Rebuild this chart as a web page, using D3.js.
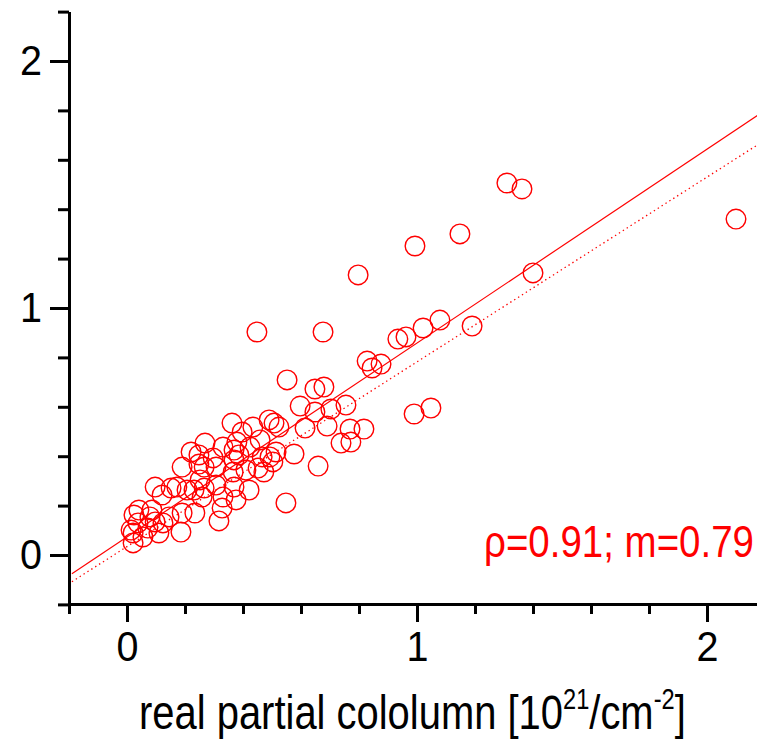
<!DOCTYPE html>
<html>
<head>
<meta charset="utf-8">
<script src="https://cdn.jsdelivr.net/npm/d3@7"></script>
<style>
  html, body { margin: 0; padding: 0; background: #fff; }
  svg { display: block; }
  text { font-family: "Liberation Sans", Arial, sans-serif; }
</style>
</head>
<body>
<svg id="chart" width="757" height="741"></svg>
<script>
// ---- data ----
const xValues = [
  1.310, 1.362, 1.148, 0.993, 0.797, 1.400, 2.100, 0.448, 0.676, 1.190,
  1.079, 1.021, 0.934, 0.962, 0.828, 0.845, 0.876, 0.552, 0.648, 0.679,
  0.597, 0.648, 0.703, 0.755, 0.614, 0.690, 0.769, 0.817, 0.738, 0.772,
  0.990, 1.048, 0.576, 0.659, 0.548,
  0.362, 0.397, 0.434, 0.490, 0.507, 0.524, 0.269, 0.248, 0.221, 0.297,
  0.331, 0.379, 0.386, 0.369, 0.424, 0.466, 0.514, 0.503, 0.266, 0.307,
  0.366, 0.410, 0.452, 0.266, 0.307, 0.369, 0.421, 0.376, 0.328, 0.317,
  0.472, 0.369, 0.459, 0.493, 0.331, 0.252,
  0.190, 0.248, 0.097, 0.121, 0.172, 0.207, 0.231, 0.259, 0.041, 0.024,
  0.086, 0.097, 0.190, 0.234, 0.110, 0.186, 0.021, 0.014, 0.055, 0.145,
  0.072, 0.152, 0.124, 0.079, 0.038, 0.021
];
const yValues = [
  1.506, 1.482, 1.300, 1.251, 1.134, 1.142, 1.360, 0.903, 0.903, 0.927,
  0.951, 0.919, 0.874, 0.883, 0.785, 0.757, 0.773, 0.709, 0.672, 0.680,
  0.603, 0.579, 0.591, 0.607, 0.514, 0.522, 0.510, 0.510, 0.453, 0.457,
  0.571, 0.595, 0.409, 0.360, 0.211,
  0.534, 0.498, 0.518, 0.547, 0.534, 0.518, 0.453, 0.405, 0.417, 0.393,
  0.437, 0.457, 0.405, 0.385, 0.437, 0.397, 0.417, 0.377, 0.356, 0.356,
  0.336, 0.344, 0.352, 0.271, 0.283, 0.275, 0.263, 0.223, 0.190, 0.138,
  0.336, 0.425, 0.466, 0.397, 0.235, 0.304,
  0.356, 0.368, 0.275, 0.243, 0.275, 0.263, 0.263, 0.235, 0.182, 0.162,
  0.182, 0.134, 0.170, 0.170, 0.089, 0.093, 0.049, 0.101, 0.073, 0.154,
  0.109, 0.271, 0.130, 0.154, 0.130, 0.089
];
// linear fits: solid and dotted
const fitIntercepts = [0.073, 0.034];
const fitSlopes     = [0.785, 0.748];
const xMajorTicks = [0, 1, 2];
const xMinorTicks = [-0.2, 0.2, 0.4, 0.6, 0.8, 1.2, 1.4, 1.6, 1.8, 2.2];
const yMajorTicks = [0, 1, 2];
const yMinorTicks = [-0.2, 0.2, 0.4, 0.6, 0.8, 1.2, 1.4, 1.6, 1.8, 2.2];
const xTickLabels = ["0", "1", "2"];
const yTickLabels = ["0", "1", "2"];
const annotationText = "\u03C1=0.91; m=0.79";
const xAxisTitle = ["real partial cololumn [10", "21", "/cm", "-2", "]"];

// ---- layout ----
const svg = d3.select("#chart");
const RED = "#ff0000";
const x = d3.scaleLinear().domain([-0.2, 2.2]).range([69, 765]);
const y = d3.scaleLinear().domain([-0.2, 2.2]).range([604.4, 11.6]);

svg.append("defs").append("clipPath").attr("id", "plotClip")
  .append("rect").attr("x", 70).attr("y", 0).attr("width", 700).attr("height", 603);

const plot = svg.append("g").attr("clip-path", "url(#plotClip)");

// fit lines
const lineDash = [null, "1.4,3.2"];
fitIntercepts.forEach((b, i) => {
  const m = fitSlopes[i];
  const xs = [-0.19, 2.2];
  plot.append("line")
    .attr("x1", x(xs[0])).attr("y1", y(b + m * xs[0]))
    .attr("x2", x(xs[1])).attr("y2", y(b + m * xs[1]))
    .attr("stroke", RED)
    .attr("stroke-width", i === 0 ? 1.2 : 1.3)
    .attr("stroke-dasharray", lineDash[i]);
});

// points
const pts = xValues.map((v, i) => ({ x: v, y: yValues[i] }));
plot.selectAll("circle.pt").data(pts).enter().append("circle")
  .attr("class", "pt")
  .attr("cx", d => x(d.x)).attr("cy", d => y(d.y))
  .attr("r", 9.8)
  .attr("fill", "none")
  .attr("stroke", RED)
  .attr("stroke-width", 1.4);

// axes
const xAxisMajor = d3.axisBottom(x).tickValues(xMajorTicks)
  .tickSize(18).tickSizeOuter(0).tickPadding(8)
  .tickFormat((d, i) => xTickLabels[i]);
const xAxisMinor = d3.axisBottom(x).tickValues(xMinorTicks)
  .tickSize(10).tickSizeOuter(0).tickFormat("");
const yAxisMajor = d3.axisLeft(y).tickValues(yMajorTicks)
  .tickSize(19).tickSizeOuter(0).tickPadding(8)
  .tickFormat((d, i) => yTickLabels[i]);
const yAxisMinor = d3.axisLeft(y).tickValues(yMinorTicks)
  .tickSize(11).tickSizeOuter(0).tickFormat("");

function styleAxis(g) {
  g.select(".domain").attr("stroke", "#000").attr("stroke-width", 3);
  g.selectAll(".tick line").attr("stroke", "#000").attr("stroke-width", 3);
  g.selectAll(".tick text").attr("fill", "#000")
    .style("font-family", "'Liberation Sans', Arial, sans-serif")
    .style("font-size", "43px")
    .attr("textLength", 22).attr("lengthAdjust", "spacingAndGlyphs");
}

svg.append("g").attr("transform", "translate(0,604)").call(xAxisMinor).call(styleAxis);
const gx = svg.append("g").attr("transform", "translate(0,604)").call(xAxisMajor).call(styleAxis);
gx.selectAll(".tick text").attr("dy", "0.71em");
svg.append("g").attr("transform", "translate(69,0)").call(yAxisMinor).call(styleAxis);
svg.append("g").attr("transform", "translate(69,0)").call(yAxisMajor).call(styleAxis);

// annotation (condensed by horizontal scale so it fits inside the picture)
const ann = svg.append("text")
  .attr("fill", RED)
  .style("font-size", "45px")
  .text(annotationText);
const annW = ann.node().getComputedTextLength();
ann.attr("transform", `translate(484,557) scale(${270 / annW},1)`);

// x axis title (condensed by horizontal scale)
const t = svg.append("text").attr("fill", "#000").style("font-size", "49px");
t.append("tspan").text(xAxisTitle[0]);
t.append("tspan").attr("dy", -20).style("font-size", "29px").text(xAxisTitle[1]);
t.append("tspan").attr("dy", 20).text(xAxisTitle[2]);
t.append("tspan").attr("dy", -20).style("font-size", "29px").text(xAxisTitle[3]);
t.append("tspan").attr("dy", 20).text(xAxisTitle[4]);
const tW = t.node().getComputedTextLength();
t.attr("transform", `translate(139,729) scale(${547 / tW},1)`);
</script>
</body>
</html>
